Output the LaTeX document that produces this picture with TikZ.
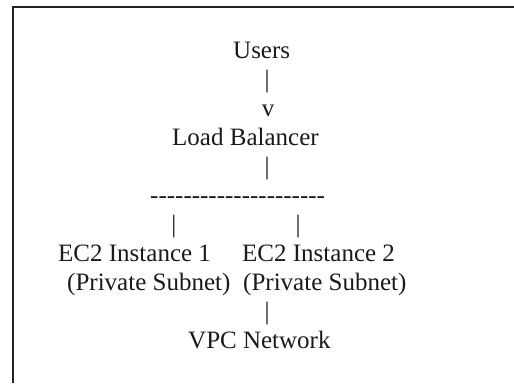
\documentclass[tikz,border=0pt]{standalone}
\usepackage{fontspec}
\setmainfont{Liberation Serif}[Ligatures=TeXOff]
\usepackage{xcolor}
\definecolor{asciiink}{HTML}{1A1A1A}
\definecolor{frameink}{HTML}{222222}

\begin{document}
\begin{tikzpicture}[x=1pt, y=-1pt,
                    every node/.style={asciiink, inner sep=0pt, font=\fontsize{25}{29}\selectfont},
                    txt/.style={anchor=base west},
                    bar/.style={anchor=base}]

\useasboundingbox (0,0) rectangle (514,383);

%% ==== frame: only the top and left edges are inside the page ====
\draw[frameink, line width=1.5pt] (13,383) -- (13,7) -- (514,7);

%% ==== top: users down to the load balancer ====
\node[txt] (users) at (233,58)  {Users};
\node[bar] (bar1)  at (267,87)  {|};
\node[bar] (tip1)  at (268,116) {v};
\node[txt] (lb)    at (172,145) {Load Balancer};
\node[bar] (bar2)  at (267,174) {|};

%% ==== split into the two instances ====
\node[txt] (split) at (150,203) {---------------------};
\node[bar] (bar3)  at (174,232) {|};
\node[bar] (bar4)  at (298,232) {|};

\node[txt] (ecA)   at (58,261)  {EC2 Instance 1};
\node[txt] (ecB)   at (242,261) {EC2 Instance 2};
\node[txt] (subA)  at (67,290)  {(Private Subnet)};
\node[txt] (subB)  at (243,290) {(Private Subnet)};

%% ==== bottom: the network ====
\node[bar] (bar5)  at (267,319) {|};
\node[txt] (vpc)   at (188,348) {VPC Network};

\end{tikzpicture}
\end{document}
